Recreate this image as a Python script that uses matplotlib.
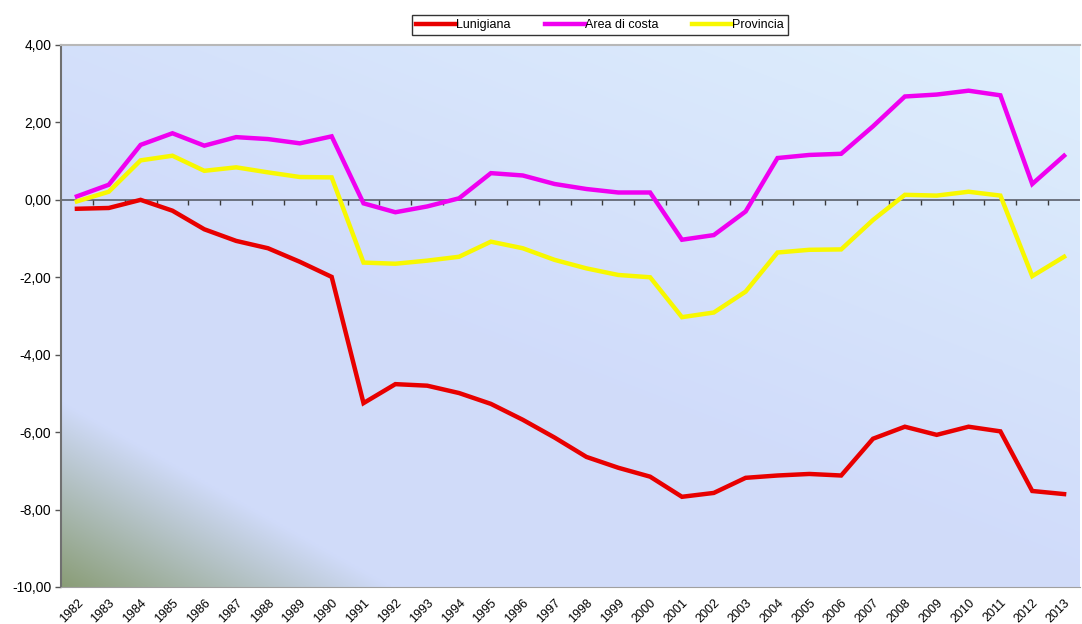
import numpy as np
import matplotlib
matplotlib.use("Agg")
import matplotlib.pyplot as plt
from matplotlib.ticker import FuncFormatter, MultipleLocator

plt.rcParams["font.family"] = ["Liberation Sans", "DejaVu Sans"]

# ---------------------------------------------------------
# Data
# ---------------------------------------------------------
years = list(range(1982, 2014))

lunigiana = [-0.23, -0.21, 0.00, -0.28, -0.76, -1.06, -1.25, -1.60, -1.99, -5.25,
             -4.76, -4.80, -4.99, -5.27, -5.68, -6.14, -6.64, -6.92, -7.15, -7.67,
             -7.57, -7.18, -7.12, -7.08, -7.12, -6.17, -5.86, -6.07, -5.86, -5.98,
             -7.52, -7.60]

area_costa = [0.09, 0.39, 1.42, 1.72, 1.40, 1.62, 1.57, 1.46, 1.64, -0.09,
              -0.32, -0.17, 0.04, 0.69, 0.63, 0.41, 0.28, 0.19, 0.19, -1.03,
              -0.91, -0.30, 1.08, 1.16, 1.19, 1.90, 2.67, 2.72, 2.82, 2.70,
              0.41, 1.14]

provincia = [-0.04, 0.21, 1.02, 1.14, 0.75, 0.84, 0.71, 0.59, 0.58, -1.62,
             -1.65, -1.57, -1.47, -1.08, -1.25, -1.55, -1.77, -1.94, -2.00, -3.03,
             -2.91, -2.37, -1.36, -1.29, -1.28, -0.52, 0.13, 0.11, 0.21, 0.11,
             -1.97, -1.47]

series = [
    ("Lunigiana",     lunigiana,  "#e80000"),
    ("Area di costa", area_costa, "#f000f0"),
    ("Provincia",     provincia,  "#f8f800"),
]

# ---------------------------------------------------------
# Figure
# ---------------------------------------------------------
fig = plt.figure(figsize=(10.82, 6.24), dpi=100)
ax = fig.add_axes([61 / 1082, 1 - 587 / 624, 1019 / 1082, 542 / 624])

x = np.arange(len(years))

# plot-area background: lavender with light top-right and greenish bottom-left corner
h, w = 270, 510
yy, xx = np.mgrid[0:h, 0:w]
fy = 1 - yy / (h - 1)          # 0 at bottom, 1 at top
fx = xx / (w - 1)              # 0 at left, 1 at right
base = np.array([0.816, 0.859, 0.980])
light = np.array([0.870, 0.935, 0.990])
green = np.array([0.540, 0.615, 0.465])
t_light = np.clip((fx * 0.55 + fy * 0.75 - 0.55) / 0.75, 0, 1)[..., None]
img = base * (1 - t_light) + light * t_light
d = fx * 1019 / 330 + fy * 542 / 185
t_green = np.clip(1 - d, 0, 1)[..., None]
img = img * (1 - t_green) + green * t_green
ax.imshow(img, extent=[0, 1, 0, 1], transform=ax.transAxes, aspect="auto",
          zorder=0, interpolation="bilinear")

for label, values, color in series:
    ax.plot(x, values, color=color, linewidth=3.2, label=label, zorder=3,
            solid_joinstyle="miter")

# zero line with category-boundary ticks
ax.axhline(0, color="#5a5f6a", linewidth=1.2, zorder=2)
bounds = x[:-1] + 0.5
ax.vlines(bounds, -0.12, 0, color="#3a3a3a", linewidth=1.0, zorder=2)

ax.set_xlim(-0.5, len(years) - 0.5)
ax.set_ylim(-10, 4)
ax.yaxis.set_major_locator(MultipleLocator(2))
ax.yaxis.set_major_formatter(FuncFormatter(lambda v, p: f"{v:.2f}".replace(".", ",")))

ax.set_xticks(x)
ax.set_xticklabels([str(y) for y in years], rotation=45, ha="right",
                   rotation_mode="anchor", fontsize=9)
ax.tick_params(axis="x", length=0, pad=7)
ax.tick_params(axis="y", length=4, width=1, color="#555555", labelsize=10, pad=3)

ax.spines["left"].set_color("#707070")
ax.spines["left"].set_linewidth(1.5)
ax.spines["bottom"].set_color("#a0a0a0")
ax.spines["top"].set_color("#b8b8b8")
ax.spines["top"].set_linewidth(1.5)
ax.spines["right"].set_visible(False)

leg = fig.legend(loc="center", bbox_to_anchor=(600 / 1082, 1 - 25 / 624), ncol=3,
                 frameon=True, fancybox=False, fontsize=9, handlelength=3.2,
                 handletextpad=0.0, columnspacing=2.7, borderpad=0.35)
leg.get_frame().set_edgecolor("#000000")
leg.get_frame().set_linewidth(1.0)

fig.savefig("out.png", dpi=100)
plt.close(fig)
